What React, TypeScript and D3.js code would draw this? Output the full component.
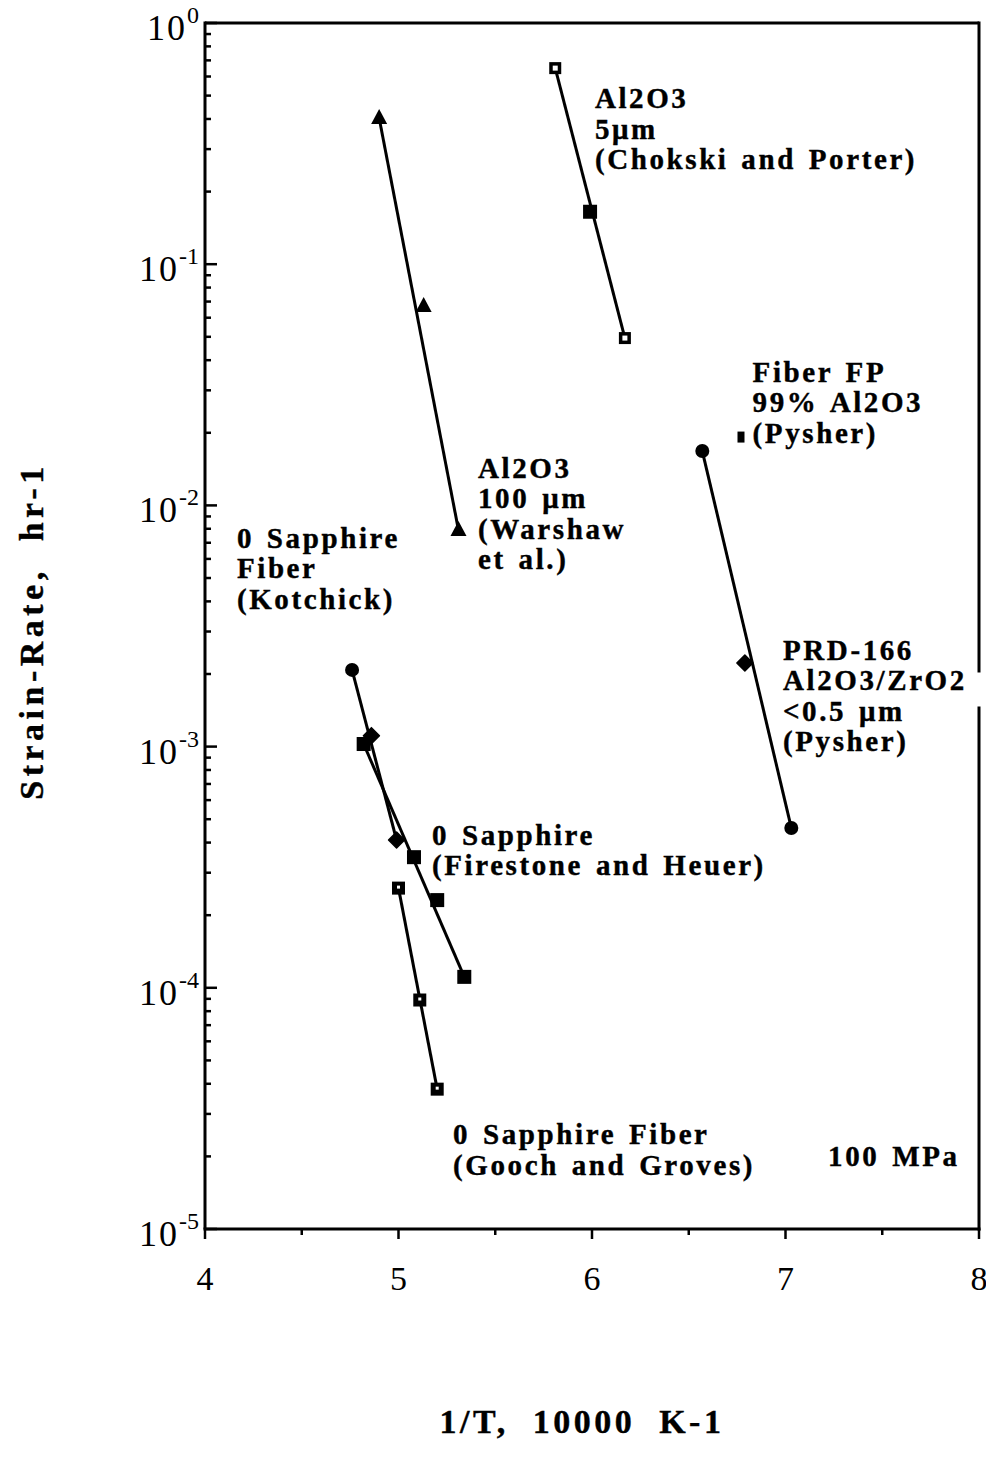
import React from "react";
import * as d3 from "d3";

// ---- data ----
const chokskiX = [5.81, 5.99, 6.17];
const chokskiY = [0.65, 0.165, 0.0494];
const warshawX = [4.9, 5.13, 5.31];
const warshawY = [0.404, 0.0671, 0.0079];
const fiberFpX = [6.77];
const fiberFpY = [0.0192];
const prdX = [6.57, 6.79, 7.03];
const prdY = [0.0168, 0.00222, 0.00046];
const kotchickX = [4.76, 4.86, 4.99];
const kotchickY = [0.00208, 0.00111, 0.00041];
const firestoneX = [4.82, 5.08, 5.2, 5.34];
const firestoneY = [0.001025, 0.000348, 0.000231, 0.000111];
const goochX = [5.0, 5.11, 5.2];
const goochY = [0.000259, 0.000089, 0.000038];

const xTicks = [4, 5, 6, 7, 8];
const xMinorTicks = [4.5, 5.5, 6.5, 7.5];
const yDecades = [0, -1, -2, -3, -4, -5];

type Marker = "openSquare" | "square" | "dotSquare" | "smallSquare" | "triangle" | "circle" | "diamond";

const series: { x: number[]; y: number[]; markers: Marker[]; line: boolean }[] = [
  { x: chokskiX, y: chokskiY, markers: ["openSquare", "square", "openSquare"], line: true },
  { x: warshawX, y: warshawY, markers: ["triangle", "triangle", "triangle"], line: true },
  { x: fiberFpX, y: fiberFpY, markers: ["smallSquare"], line: false },
  { x: prdX, y: prdY, markers: ["circle", "diamond", "circle"], line: true },
  { x: kotchickX, y: kotchickY, markers: ["circle", "diamond", "diamond"], line: true },
  { x: firestoneX, y: firestoneY, markers: ["square", "square", "square", "square"], line: true },
  { x: goochX, y: goochY, markers: ["dotSquare", "dotSquare", "dotSquare"], line: true },
];

const annotations: { x: number; y: number; lines: string[]; bgLine?: number }[] = [
  { x: 6.015, y: 0.444, lines: ["Al2O3", "5μm", "(Chokski and Porter)"] },
  { x: 6.83, y: 0.0325, lines: ["Fiber FP", "99% Al2O3", "(Pysher)"] },
  { x: 5.411, y: 0.013, lines: ["Al2O3", "100 μm", "(Warshaw", "et al.)"] },
  { x: 4.165, y: 0.00666, lines: ["0 Sapphire", "Fiber", "(Kotchick)"] },
  { x: 6.987, y: 0.002286, lines: ["PRD-166", "Al2O3/ZrO2", "<0.5 μm", "(Pysher)"], bgLine: 1 },
  { x: 5.173, y: 0.000391, lines: ["0 Sapphire", "(Firestone and Heuer)"] },
  { x: 5.282, y: 0.0000225, lines: ["0 Sapphire Fiber", "(Gooch and Groves)"] },
  { x: 7.22, y: 0.0000182, lines: ["100 MPa"] },
];

const W = 986;
const H = 1464;
const FONT = "'Liberation Serif', 'Times New Roman', serif";

export default function App() {
  const x = d3.scaleLinear().domain([4, 8]).range([205, 979]);
  const y = d3.scaleLog().domain([1e-5, 1]).range([1229, 23]);
  const [x0, x1] = x.range();
  const [y0, y1] = y.range();

  const minorY: number[] = [];
  for (let e = -5; e < 0; e++) for (let m = 2; m <= 9; m++) minorY.push(m * Math.pow(10, e));

  const line = d3
    .line<[number, number]>()
    .x((d) => x(d[0]))
    .y((d) => y(d[1]));

  const drawMarker = (m: Marker, cx: number, cy: number, key: string) => {
    switch (m) {
      case "openSquare":
        return (
          <g key={key}>
            <rect x={cx - 6} y={cy - 6} width={12} height={12} fill="#000" />
            <rect x={cx - 2.5} y={cy - 2.5} width={5} height={5} fill="#fff" />
          </g>
        );
      case "dotSquare":
        return (
          <g key={key}>
            <rect x={cx - 6.5} y={cy - 6.5} width={13} height={13} fill="#000" />
            <rect x={cx - 1.5} y={cy - 2.5} width={3} height={3} fill="#fff" />
          </g>
        );
      case "square":
        return <rect key={key} x={cx - 7} y={cy - 7} width={14} height={14} fill="#000" />;
      case "smallSquare":
        return <rect key={key} x={cx - 3.5} y={cy - 5.5} width={7} height={11} fill="#000" />;
      case "triangle":
        return (
          <path
            key={key}
            d={`M${cx},${cy - 9}L${cx + 8},${cy + 6}L${cx - 8},${cy + 6}Z`}
            fill="#000"
          />
        );
      case "circle":
        return <circle key={key} cx={cx} cy={cy} r={7} fill="#000" />;
      case "diamond":
        return (
          <path
            key={key}
            d={`M${cx},${cy - 8}L${cx + 8},${cy}L${cx},${cy + 8}L${cx - 8},${cy}Z`}
            fill="#000"
            stroke="#000"
            strokeWidth={1.5}
            strokeLinejoin="round"
          />
        );
    }
  };

  const LH = 30.5;

  return (
    <svg
      width={W}
      height={H}
      viewBox={`0 0 ${W} ${H}`}
      style={{ position: "absolute", left: 0, top: 0, background: "#fff" }}
      fontFamily={FONT}
    >
      <rect x={0} y={0} width={W} height={H} fill="#fff" />

      {/* frame */}
      <g stroke="#000" strokeWidth={3} fill="none">
        <line x1={x0} y1={y0} x2={x0} y2={y1 - 1.5} />
        <line x1={x0} y1={y1} x2={x1} y2={y1} />
        <line x1={x1} y1={y1 - 1.5} x2={x1} y2={y0 + 1.5} />
        <line x1={x0 - 1.5} y1={y0} x2={x1 + 1.5} y2={y0} />
      </g>

      {/* y ticks */}
      <g stroke="#000" strokeWidth={2.5}>
        {yDecades.map((e) => (
          <line key={"M" + e} x1={x0} x2={x0 + 12} y1={y(Math.pow(10, e))} y2={y(Math.pow(10, e))} />
        ))}
        {minorY.map((v, i) => (
          <line key={"m" + i} x1={x0} x2={x0 + 6} y1={y(v)} y2={y(v)} />
        ))}
      </g>
      {/* x ticks */}
      <g stroke="#000" strokeWidth={2.5}>
        {xTicks.map((t) => (
          <line key={"X" + t} x1={x(t)} x2={x(t)} y1={y0} y2={y0 + 10} />
        ))}
        {xMinorTicks.map((t) => (
          <line key={"x" + t} x1={x(t)} x2={x(t)} y1={y0} y2={y0 + 6} />
        ))}
      </g>

      {/* y tick labels */}
      <g fontSize={36} fill="#000">
        {yDecades.map((e) => (
          <text key={"yl" + e} x={199} y={y(Math.pow(10, e)) + 17} textAnchor="end">
            <tspan letterSpacing={2}>10</tspan>
            <tspan dy={-17} fontSize={24}>
              {e === 0 ? "0" : "-" + Math.abs(e)}
            </tspan>
          </text>
        ))}
      </g>
      {/* x tick labels */}
      <g fontSize={34} fill="#000">
        {xTicks.map((t) => (
          <text key={"xl" + t} x={x(t)} y={y0 + 61} textAnchor="middle">
            {t}
          </text>
        ))}
      </g>

      {/* series lines */}
      <g stroke="#000" strokeWidth={3} fill="none">
        {series
          .filter((s) => s.line)
          .map((s, i) => {
            const n = s.x.length - 1;
            const pts: [number, number][] = [
              [s.x[0], s.y[0]],
              [s.x[n], s.y[n]],
            ];
            return <path key={"l" + i} d={line(pts) || ""} />;
          })}
      </g>
      {/* markers */}
      <g>
        {series.map((s, i) => s.x.map((xv, j) => drawMarker(s.markers[j], x(xv), y(s.y[j]), `m${i}-${j}`)))}
      </g>

      {/* annotations */}
      <g
        fontSize={29}
        fontWeight="bold"
        fill="#000"
        stroke="#000"
        strokeWidth={0.4}
        letterSpacing={2.6}
        wordSpacing={3}
      >
        {annotations.map((a, i) => {
          const ax = x(a.x);
          const ay = y(a.y);
          return (
            <g key={"a" + i}>
              {a.lines.map((t, k) => (
                <g key={k}>
                  {a.bgLine === k && (
                    <rect
                      x={ax - 4}
                      y={ay + k * LH - 18}
                      width={W - ax + 4}
                      height={34}
                      fill="#fff"
                      stroke="none"
                    />
                  )}
                  <text x={ax} y={ay + k * LH}>
                    {t}
                  </text>
                </g>
              ))}
            </g>
          );
        })}
      </g>

      {/* axis titles */}
      <text
        transform={`translate(43,631) rotate(-90)`}
        textAnchor="middle"
        fontSize={34}
        fontWeight="bold"
        stroke="#000"
        strokeWidth={0.4}
        letterSpacing={4.5}
        style={{ whiteSpace: "pre" }}
        xmlSpace="preserve"
      >
        {"Strain-Rate,  hr-1"}
      </text>
      <text
        x={582}
        y={1433}
        textAnchor="middle"
        fontSize={34}
        fontWeight="bold"
        stroke="#000"
        strokeWidth={0.4}
        letterSpacing={3.5}
        style={{ whiteSpace: "pre" }}
        xmlSpace="preserve"
      >
        {"1/T,  10000  K-1"}
      </text>
    </svg>
  );
}
